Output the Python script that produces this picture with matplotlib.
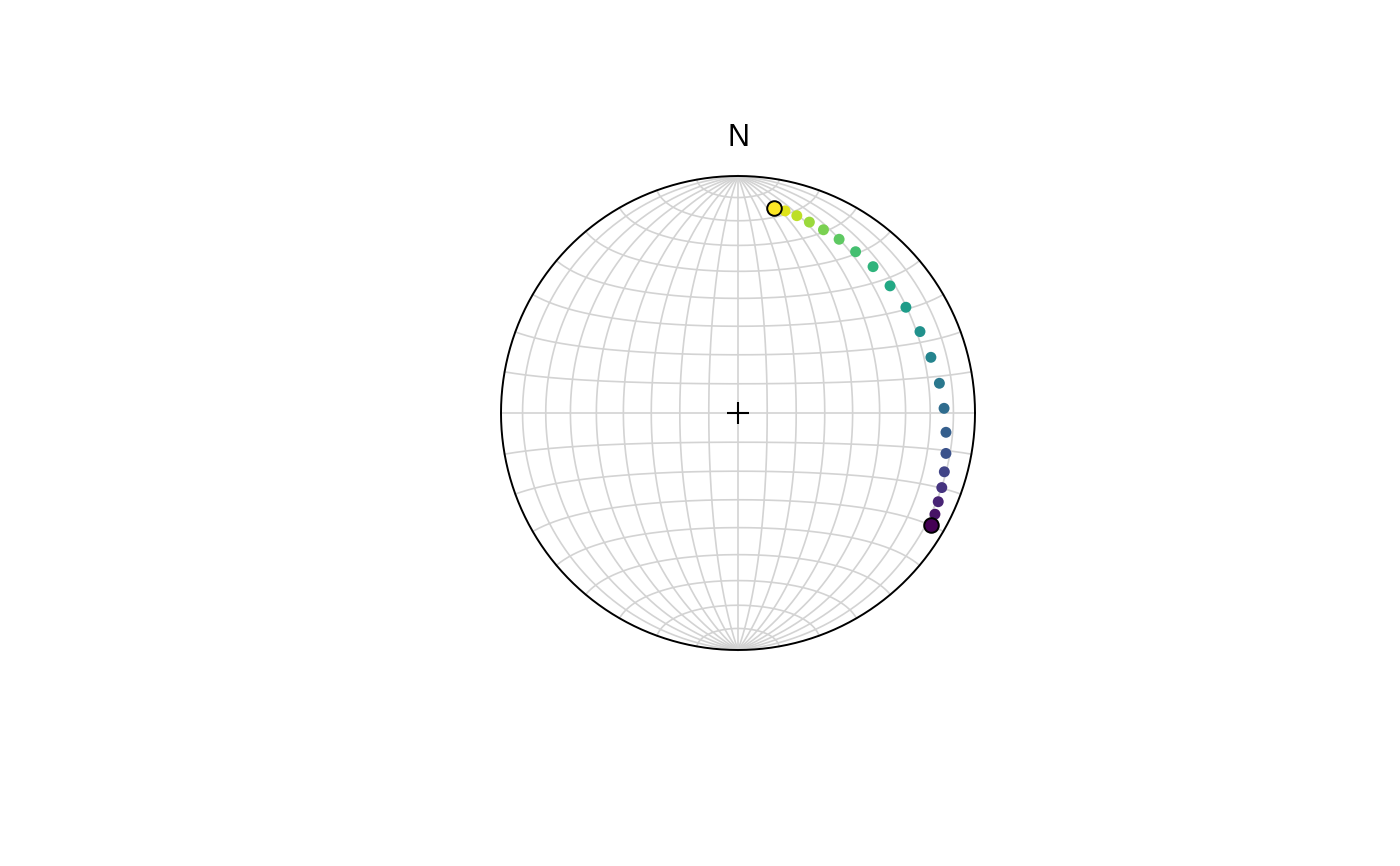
import numpy as np
import matplotlib.pyplot as plt
from matplotlib import cm

# trend / plunge (degrees) of the path, from start (dark) to end (yellow)
trend = [120.2, 117.2, 113.9, 110.1, 105.9, 101.0, 95.3, 88.7, 81.6, 73.9, 65.9,
         57.8, 50.1, 42.7, 36.1, 30.2, 25.0, 20.5, 16.6, 13.1, 10.1]
plunge = [6.6, 7.3, 8.4, 9.3, 10.4, 11.6, 12.9, 14.1, 15.2, 16.4, 17.0,
          17.4, 17.5, 17.1, 16.9, 16.3, 15.8, 15.1, 14.2, 13.5, 13.3]
grid_step = 10
label_north = "N"


def project(x, y, z):
    # lower hemisphere equal-area (Schmidt) projection, unit primitive
    s = 1.0 / np.sqrt(1.0 + z)
    return x * s, y * s


def line_xy(tr, pl):
    tr = np.radians(tr)
    pl = np.radians(pl)
    x = np.cos(pl) * np.sin(tr)
    y = np.cos(pl) * np.cos(tr)
    z = np.sin(pl)
    return project(x, y, z)


fig = plt.figure(figsize=(14, 8.66), dpi=100)
lim = 1.1
R = 237
ax = fig.add_axes([(738 - lim * R) / 1400, (866 - 413 - lim * R) / 866,
                   2 * lim * R / 1400, 2 * lim * R / 866])
ax.set_xlim(-lim, lim)
ax.set_ylim(-lim, lim)
ax.set_aspect('equal')
ax.axis('off')

# %% net grid: great circles through N-S and small circles about the N-S axis
t = np.radians(np.linspace(-90, 90, 361))
u = np.radians(np.linspace(0, 180, 361))
for deg in range(grid_step, 180, grid_step):
    lon = np.radians(deg)
    x = np.cos(t) * np.cos(lon)
    y = np.sin(t)
    z = np.clip(np.cos(t) * np.sin(lon), 0, None)
    px, py = project(x, y, z)
    ax.plot(px, py, color='#d3d3d3', lw=1.2, zorder=1)
for deg in range(-90 + grid_step, 90, grid_step):
    lat = np.radians(deg)
    x = np.cos(lat) * np.cos(u)
    y = np.full_like(u, np.sin(lat))
    z = np.clip(np.cos(lat) * np.sin(u), 0, None)
    px, py = project(x, y, z)
    ax.plot(px, py, color='#d3d3d3', lw=1.2, zorder=1)

a = np.linspace(0, 2 * np.pi, 721)
ax.plot(np.cos(a), np.sin(a), color='black', lw=1.4, zorder=2)
ax.plot(0, 0, marker='+', ms=16, mew=1.5, color='black', zorder=3)
ax.text(0, (413 - 138) / R, label_north, ha='center', va='center',
        fontsize=22, family=['Liberation Sans', 'DejaVu Sans'])

# %% data
px, py = line_xy(np.array(trend), np.array(plunge))
colors = cm.viridis(np.linspace(0, 1, len(trend)))
ax.scatter(px, py, s=62, c=colors, edgecolors='none', zorder=4)
for i in [0, len(trend) - 1]:
    ax.plot(px[i], py[i], 'o', ms=10.5, mfc=colors[i], mec='black', mew=1.4,
            zorder=5)

fig.savefig('out.png', dpi=100)
